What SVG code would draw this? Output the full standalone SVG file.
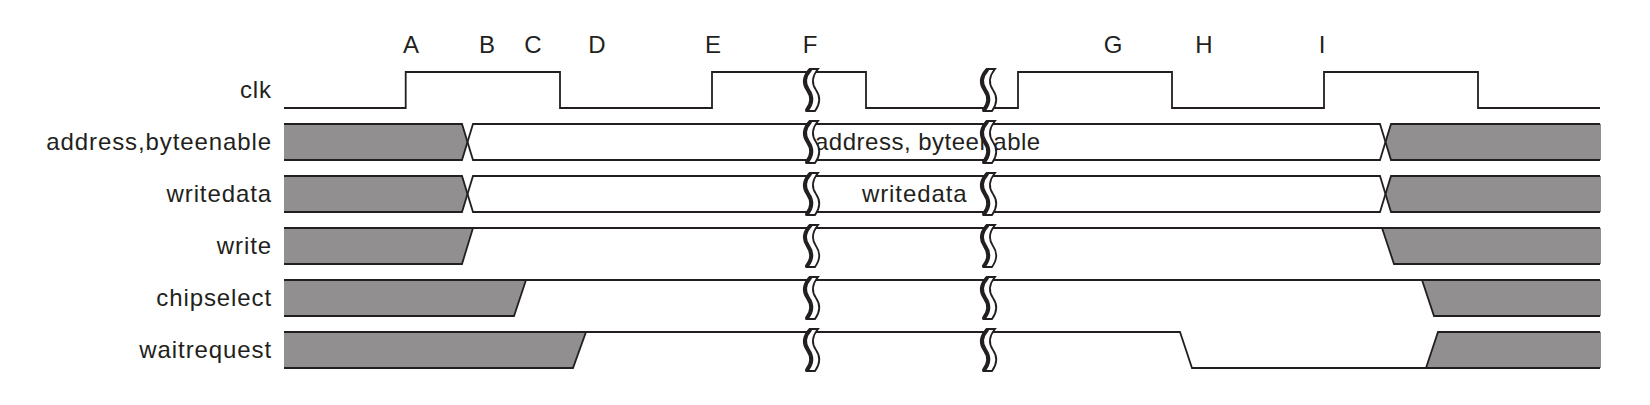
<svg xmlns="http://www.w3.org/2000/svg" width="1650" height="405" viewBox="0 0 1650 405">
<style>
text{font-family:"Liberation Sans",Arial,sans-serif;font-size:24px;fill:#231f20;letter-spacing:0.9px}
.lbl{text-anchor:end}
.tick{text-anchor:middle;letter-spacing:0}
.in{letter-spacing:0.5px}
.ln{fill:none;stroke:#231f20;stroke-width:1.8;stroke-linejoin:miter}
.g{fill:#918f90;stroke:none}
.brk{fill:#fff;stroke:#231f20;stroke-width:1.8}
.brk2{fill:none;stroke:#231f20;stroke-width:4;stroke-linecap:round}
</style>
<defs>
<g id="brk">
<path class="brk" d="M2,-21 Q-7,-10 0,0 Q7,10 -1,21 L7,21 Q15,10 8,0 Q1,-10 10,-21 Z"/>
<path class="brk2" d="M2,-20 Q-7,-10 0,0 Q7,10 -1,20"/>
</g>
</defs>
<rect width="1650" height="405" fill="#fff"/>
<g id="ticks">
<text class="tick" x="411" y="53">A</text>
<text class="tick" x="487" y="53">B</text>
<text class="tick" x="533" y="53">C</text>
<text class="tick" x="597" y="53">D</text>
<text class="tick" x="713" y="53">E</text>
<text class="tick" x="810" y="53">F</text>
<text class="tick" x="1113" y="53">G</text>
<text class="tick" x="1204" y="53">H</text>
<text class="tick" x="1322" y="53">I</text>
</g>
<g id="clk">
<text class="lbl" x="272" y="98">clk</text>
<path class="ln" d="M284,108 H405.7 V72 H560 V108 H712 V72 H866 V108 H1018 V72 H1172 V108 H1324 V72 H1478 V108 H1600"/>
</g>
<g id="address">
<text class="lbl" x="272" y="150">address,byteenable</text>
<path class="g" d="M284,124 H462 L467.5,142 L462,160 H284 Z"/>
<path class="g" d="M1391,124 H1601 V160 H1391 L1385.5,142 Z"/>
<path class="ln" d="M284,124 H462 L473,160 H1380 L1391,124 H1600"/>
<path class="ln" d="M284,160 H462 L473,124 H1380 L1391,160 H1600"/>
<text class="in" x="815" y="150">address, byteenable</text>
</g>
<g id="writedata">
<text class="lbl" x="272" y="202">writedata</text>
<path class="g" d="M284,176 H462 L467.5,194 L462,212 H284 Z"/>
<path class="g" d="M1391,176 H1601 V212 H1391 L1385.5,194 Z"/>
<path class="ln" d="M284,176 H462 L473,212 H1380 L1391,176 H1600"/>
<path class="ln" d="M284,212 H462 L473,176 H1380 L1391,212 H1600"/>
<text x="862" y="202">writedata</text>
</g>
<g id="write">
<text class="lbl" x="272" y="254">write</text>
<path class="g" d="M284,228 H473 L462,264 H284 Z"/>
<path class="g" d="M1382,228 H1601 V264 H1394 Z"/>
<path class="ln" d="M284,228 H1382 L1394,264 H1600"/>
<path class="ln" d="M284,264 H462 L473,228"/>
<path class="ln" d="M1382,228 H1600"/>
</g>
<g id="chipselect">
<text class="lbl" x="272" y="306">chipselect</text>
<path class="g" d="M284,280 H526 L514,316 H284 Z"/>
<path class="g" d="M1422,280 H1601 V316 H1434 Z"/>
<path class="ln" d="M284,280 H1422 L1434,316 H1600"/>
<path class="ln" d="M284,316 H514 L526,280"/>
<path class="ln" d="M1422,280 H1600"/>
</g>
<g id="waitrequest">
<text class="lbl" x="272" y="358">waitrequest</text>
<path class="g" d="M284,332 H586 L573,368 H284 Z"/>
<path class="g" d="M1438,332 H1601 V368 H1426 Z"/>
<path class="ln" d="M284,332 H1180 L1192,368 H1600"/>
<path class="ln" d="M284,368 H573 L586,332"/>
<path class="ln" d="M1426,368 L1438,332 H1600"/>
</g>
<g id="breaks">
<use href="#brk" x="808" y="90"/>
<use href="#brk" x="808" y="142"/>
<use href="#brk" x="808" y="194"/>
<use href="#brk" x="808" y="246"/>
<use href="#brk" x="808" y="298"/>
<use href="#brk" x="808" y="350"/>
<use href="#brk" x="985" y="90"/>
<use href="#brk" x="985" y="142"/>
<use href="#brk" x="985" y="194"/>
<use href="#brk" x="985" y="246"/>
<use href="#brk" x="985" y="298"/>
<use href="#brk" x="985" y="350"/>
</g>
<g id="connectors"/>
</svg>
